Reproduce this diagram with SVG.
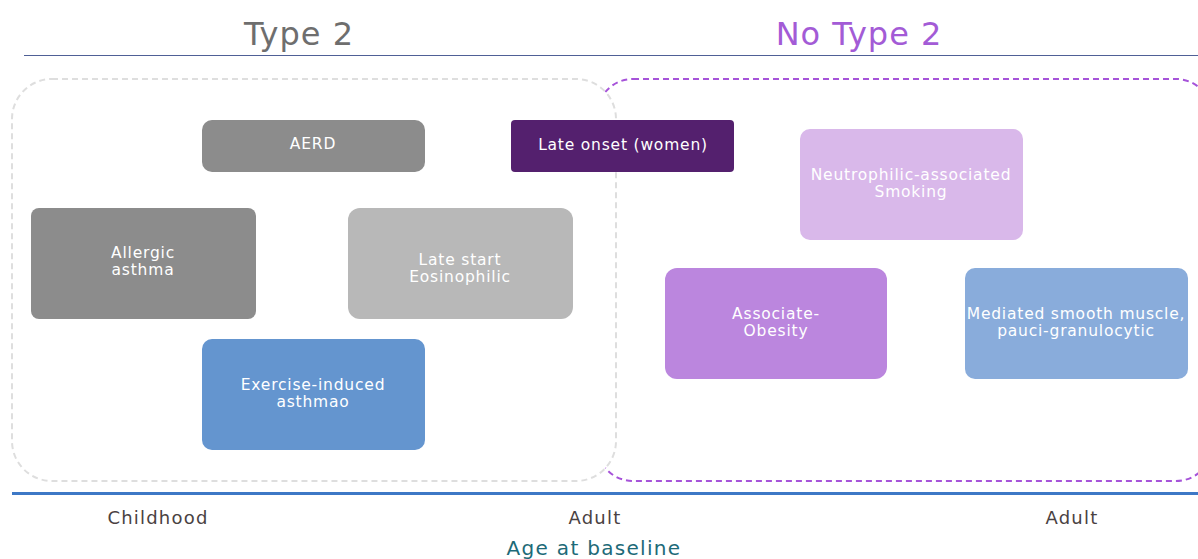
<svg xmlns="http://www.w3.org/2000/svg" width="1198" height="559" viewBox="0 0 1198 559">
<style>
text{font-family:"DejaVu Sans","Noto Sans",sans-serif;text-anchor:middle}
.nt{fill:#ffffff;font-size:15.5px;letter-spacing:0.8px}
.ax{fill:#4a4242;font-size:18px;letter-spacing:1.2px}
.hd{font-size:32px;letter-spacing:1px}
</style>
<rect width="1198" height="559" fill="#ffffff"/>
<g id="headers">
<text class="hd" x="299" y="45" fill="#6e6e6e">Type 2</text>
<text class="hd" x="859" y="45" fill="#a35bd6">No Type 2</text>
<line x1="24" y1="55.5" x2="1198" y2="55.5" stroke="#4f6096" stroke-width="1"/>
</g>
<g id="groups">
<rect id="no-type2-region" x="597" y="79" width="615" height="402" rx="36" fill="none" stroke="#a653d9" stroke-width="2" stroke-dasharray="6 4"/>
<rect id="type2-region" x="12" y="79" width="604" height="402" rx="40" fill="#ffffff" stroke="#dedede" stroke-width="2" stroke-dasharray="6 4"/>
</g>
<g id="node-aerd">
<rect x="202" y="120" width="223" height="52" rx="10" fill="#8c8c8c"/>
<text class="nt" x="313" y="149">AERD</text>
</g>
<g id="node-late-onset">
<rect x="511" y="120" width="223" height="52" rx="4" fill="#54206e"/>
<text class="nt" x="623" y="150">Late onset (women)</text>
</g>
<g id="node-allergic">
<rect x="31" y="208" width="225" height="111" rx="8" fill="#8c8c8c"/>
<text class="nt" x="143" y="258">Allergic</text>
<text class="nt" x="143" y="275">asthma</text>
</g>
<g id="node-late-start">
<rect x="348" y="208" width="225" height="111" rx="12" fill="#b8b8b8"/>
<text class="nt" x="460" y="265">Late start</text>
<text class="nt" x="460" y="282">Eosinophilic</text>
</g>
<g id="node-exercise">
<rect x="202" y="339" width="223" height="111" rx="10" fill="#6495cf"/>
<text class="nt" x="313" y="390">Exercise-induced</text>
<text class="nt" x="313" y="407">asthmao</text>
</g>
<g id="node-neutrophilic">
<rect x="800" y="129" width="223" height="111" rx="10" fill="#d9b8ea"/>
<text class="nt" x="911" y="180">Neutrophilic-associated</text>
<text class="nt" x="911" y="197">Smoking</text>
</g>
<g id="node-obesity">
<rect x="665" y="268" width="222" height="111" rx="12" fill="#bb86de"/>
<text class="nt" x="776" y="319">Associate-</text>
<text class="nt" x="776" y="336">Obesity</text>
</g>
<g id="node-mediated">
<rect x="965" y="268" width="223" height="111" rx="10" fill="#89acdb"/>
<text class="nt" x="1076" y="319">Mediated smooth muscle,</text>
<text class="nt" x="1076" y="336">pauci-granulocytic</text>
</g>
<g id="connectors">
<line x1="12" y1="493.5" x2="1198" y2="493.5" stroke="#3d78c6" stroke-width="3"/>
</g>
<g id="axis-labels">
<text class="ax" x="158" y="524">Childhood</text>
<text class="ax" x="595" y="524">Adult</text>
<text class="ax" x="1072" y="524">Adult</text>
<text x="594" y="555" fill="#1d6a78" font-size="20px" letter-spacing="1.3px">Age at baseline</text>
</g>
</svg>
